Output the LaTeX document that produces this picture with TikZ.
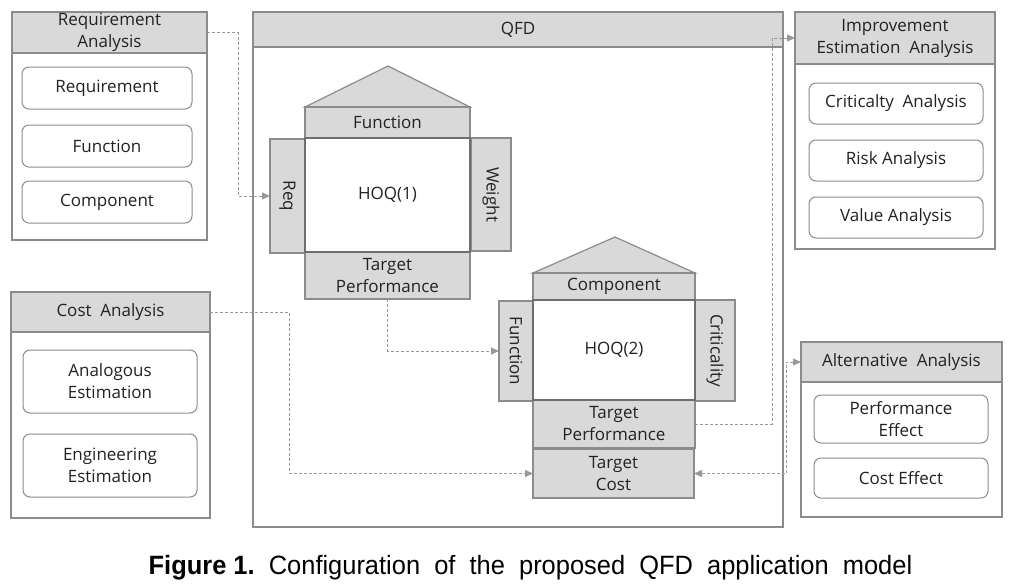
\documentclass[tikz,border=0pt]{standalone}
\usepackage{fontspec}
\setmainfont{Open Sans}
\newfontfamily\capfont{Liberation Sans}
\usetikzlibrary{arrows.meta}
\definecolor{hdrgray}{HTML}{D9D9D9}
\definecolor{linegray}{HTML}{8C8C8C}
\definecolor{darkline}{HTML}{6E6E6E}
\definecolor{conngray}{HTML}{999999}
\definecolor{txt}{HTML}{222222}
\begin{document}
\begin{tikzpicture}[x=1pt,y=-1pt,
  every node/.style={font=\fontsize{17}{22}\selectfont, text=txt, align=center, inner sep=0pt, outer sep=0pt},
  panel/.style={draw=linegray, line width=1.2pt, fill=white},
  hdr/.style={draw=linegray, line width=1.2pt, fill=hdrgray},
  item/.style={draw=linegray, line width=1pt, fill=white, rounded corners=7pt},
  bar/.style={draw=linegray, line width=1.2pt, fill=hdrgray},
  core/.style={draw=darkline, line width=1.6pt, fill=white},
  roof/.style={draw=linegray, line width=1.2pt, fill=hdrgray},
  conn/.style={draw=conngray, line width=1pt, dash pattern=on 3pt off 2pt, -{Triangle[length=8pt,width=7pt,fill=conngray]}},
  connboth/.style={draw=conngray, line width=1pt, dash pattern=on 3pt off 2pt, {Triangle[length=8pt,width=7pt,fill=conngray]}-{Triangle[length=8pt,width=7pt,fill=conngray]}}
]
\useasboundingbox (0,0) rectangle (1021,584);

% Requirement Analysis
\node[panel, minimum width=195, minimum height=228] (ra) at (109.5,126) {};
\node[hdr, minimum width=195, minimum height=41] (rahdr) at (109.5,32.5) {Requirement\\Analysis};
\node[item, minimum width=170, minimum height=42] (ra1) at (107,88) {Requirement};
\node[item, minimum width=170, minimum height=42] (ra2) at (107,146) {Function};
\node[item, minimum width=170, minimum height=42] (ra3) at (107,202) {Component};

% Cost Analysis
\node[panel, minimum width=199, minimum height=226] (ca) at (110.5,405) {};
\node[hdr, minimum width=199, minimum height=40] (cahdr) at (110.5,312) {Cost\ \ Analysis};
\node[item, minimum width=174, minimum height=63] (ca1) at (110,381.5) {Analogous\\Estimation};
\node[item, minimum width=174, minimum height=63] (ca2) at (110,465.5) {Engineering\\Estimation};

% QFD
\node[panel, minimum width=530, minimum height=515] (qfd) at (518,269.5) {};
\node[hdr, minimum width=530, minimum height=35] (qfdhdr) at (518,29.5) {QFD};

% HOQ(1)
\filldraw[roof] (305,107) -- (388,66) -- (470,107) -- cycle;
\node[bar, minimum width=40, minimum height=113] (wt1) at (491,194.5) {\rotatebox{-90}{Weight}};
\node[bar, minimum width=35, minimum height=114] (req) at (287.5,196) {\rotatebox{-90}{Req}};
\node[bar, minimum width=165, minimum height=31] (fn1) at (387.5,122.5) {Function};
\node[bar, minimum width=165, minimum height=47] (tp1) at (387.5,275.5) {Target\\Performance};
\node[core, minimum width=165, minimum height=114] (hoq1) at (387.5,195) {HOQ(1)};

% HOQ(2)
\filldraw[roof] (533,273) -- (615,237) -- (695,273) -- cycle;
\node[bar, minimum width=40, minimum height=101] (crit) at (715,350.5) {\rotatebox{-90}{Criticality}};
\node[bar, minimum width=34, minimum height=100] (fn2) at (516,351) {\rotatebox{-90}{Function}};
\node[bar, minimum width=162, minimum height=27] (comp) at (614,286.5) {Component};
\node[bar, minimum width=162, minimum height=48] (tp2) at (614,424) {Target\\Performance};
\node[bar, minimum width=161, minimum height=49] (tc) at (613.5,473.5) {Target\\Cost};
\node[core, minimum width=162, minimum height=100] (hoq2) at (614,350) {HOQ(2)};

% Improvement Estimation Analysis
\node[panel, minimum width=200, minimum height=237] (ie) at (895,130.5) {};
\node[hdr, minimum width=200, minimum height=52] (iehdr) at (895,38) {Improvement\\Estimation\ \ Analysis};
\node[item, minimum width=174, minimum height=41] (ie1) at (896,103.5) {Criticalty\ \ Analysis};
\node[item, minimum width=174, minimum height=41] (ie2) at (896,160.5) {Risk\ Analysis};
\node[item, minimum width=174, minimum height=41] (ie3) at (896,217.5) {Value\ Analysis};

% Alternative Analysis
\node[panel, minimum width=201, minimum height=175] (aa) at (901.5,429.5) {};
\node[hdr, minimum width=201, minimum height=40] (aahdr) at (901.5,362) {Alternative\ \ Analysis};
\node[item, minimum width=174, minimum height=48] (aa1) at (901,419) {Performance\\Effect};
\node[item, minimum width=174, minimum height=40] (aa2) at (901,478) {Cost\ Effect};

% connectors
\draw[conn] (rahdr.east) -- ++(31,0) |- (req.west);
\draw[conn] (tp1.south) |- (fn2.west);
\draw[conn] (cahdr.east) -- ++(79,0) |- (tc.west);
\draw[conn] (tp2.east) -- ++(77,0) |- (iehdr.west);
\draw[connboth] (tc.east) -- ++(92.5,0) |- (aahdr.west);

% caption
\node[font=\capfont\fontsize{26.5}{30}\selectfont, text=black, anchor=base] (cap) at (530.5,574) {\scalebox{0.96}[1]{\textbf{Figure 1.}\ \ Configuration\ \ of\ \ the\ \ proposed\ \ QFD\ \ application\ \ model}};
\end{tikzpicture}
\end{document}
